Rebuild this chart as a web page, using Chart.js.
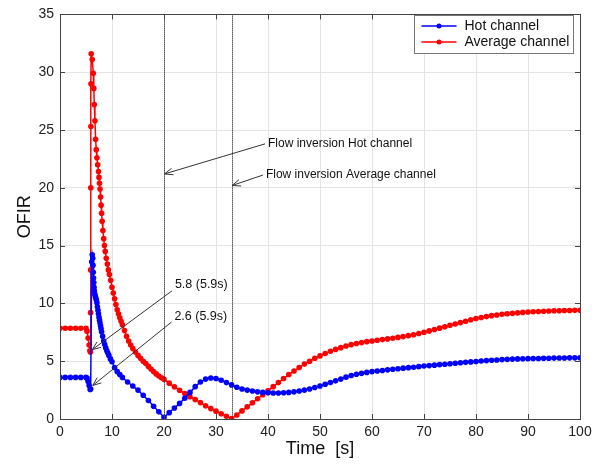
<!DOCTYPE html>
<html lang="en">
<head>
<meta charset="UTF-8">
<title>OFIR</title>
<script src="https://cdn.jsdelivr.net/npm/chart.js"></script>
<style>
  html, body { margin: 0; padding: 0; background: #fff; }
  #c { display: block; }
</style>
</head>
<body>
<canvas id="c" width="597" height="464"></canvas>
<script>
// ---- data ----
var hotTime = [0, 1, 2, 3, 4, 5, 5.2, 5.4, 5.6, 5.8, 5.9,
  6.1, 6.2, 6.3, 6.35, 6.4, 6.45, 6.5, 6.55, 6.6, 6.7, 6.8, 6.9, 7.0, 7.1, 7.2, 7.3, 7.4, 7.5, 7.6, 7.7, 7.8, 7.9,
  8.0, 8.2, 8.4, 8.6, 8.8, 9.0, 9.2, 9.4, 9.7, 10, 10.5, 11, 11.5, 12, 13, 14, 15, 16, 17, 18, 19, 20,
  21, 22, 23, 24, 25, 26, 27, 28, 29, 30, 31, 32, 33, 34, 35, 36, 37, 38, 39, 40,
  41, 42, 43, 44, 45, 46, 47, 48, 49, 50, 51, 52, 53, 54, 55, 56, 57, 58, 59, 60,
  61, 62, 63, 64, 65, 66, 67, 68, 69, 70, 71, 72, 73, 74, 75, 76, 77, 78, 79, 80,
  81, 82, 83, 84, 85, 86, 87, 88, 89, 90, 91, 92, 93, 94, 95, 96, 97, 98, 99, 100];
var hotOfir = [3.6, 3.6, 3.6, 3.6, 3.6, 3.6, 3.55, 3.25, 2.9, 2.55, 2.6,
  13.6, 14.2, 13.9, 13.3, 12.7, 12.2, 11.8, 11.4, 11.1, 10.8, 10.6, 10.45, 10.3, 10.05, 9.7, 9.4, 9.1, 8.8, 8.55, 8.3, 8.05, 7.8,
  7.55, 7.15, 6.75, 6.45, 6.15, 5.9, 5.7, 5.5, 5.2, 4.95, 4.45, 4.1, 3.85, 3.6, 3.2, 2.85, 2.5, 2.05, 1.6, 1.1, 0.62, 0.15,
  0.55, 0.95, 1.35, 1.8, 2.3, 2.8, 3.2, 3.45, 3.55, 3.5, 3.35, 3.15, 2.95, 2.75, 2.6, 2.5, 2.42, 2.35, 2.3, 2.27,
  2.25, 2.25, 2.27, 2.3, 2.35, 2.42, 2.5, 2.6, 2.72, 2.85, 3.0, 3.15, 3.3, 3.45, 3.62, 3.76, 3.87, 3.95, 4.03, 4.1,
  4.15, 4.2, 4.25, 4.3, 4.35, 4.4, 4.44, 4.48, 4.53, 4.58, 4.62, 4.66, 4.7, 4.74, 4.78, 4.82, 4.86, 4.9, 4.94, 4.98,
  5.02, 5.05, 5.08, 5.11, 5.14, 5.16, 5.18, 5.2, 5.21, 5.22, 5.23, 5.24, 5.25, 5.26, 5.27, 5.28, 5.28, 5.29, 5.29, 5.3];

var avgTime = [0, 1, 2, 3, 4, 5, 5.2, 5.4, 5.6, 5.75, 5.85,
  5.88, 5.9, 5.92, 5.94, 5.96, 6.0, 6.2, 6.4, 6.5, 6.6, 6.72, 6.85, 6.97, 7.1, 7.25, 7.4, 7.5, 7.6, 7.7, 7.8, 7.9,
  8.0, 8.1, 8.25, 8.4, 8.55, 8.7, 8.9, 9.1, 9.3, 9.5, 9.75, 10, 10.25, 10.5, 10.75, 11, 11.25, 11.5, 11.75, 12,
  12.4, 12.8, 13.2, 13.6, 14, 14.5, 15, 15.5, 16, 16.5, 17, 17.5, 18, 18.5, 19, 19.5, 20,
  21, 22, 23, 24, 25, 26, 27, 28, 29, 30, 31, 32, 33, 34, 35, 36, 37, 38, 39, 40,
  41, 42, 43, 44, 45, 46, 47, 48, 49, 50, 51, 52, 53, 54, 55, 56, 57, 58, 59, 60,
  61, 62, 63, 64, 65, 66, 67, 68, 69, 70, 71, 72, 73, 74, 75, 76, 77, 78, 79, 80,
  81, 82, 83, 84, 85, 86, 87, 88, 89, 90, 91, 92, 93, 94, 95, 96, 97, 98, 99, 100];
var avgOfir = [7.85, 7.85, 7.85, 7.85, 7.85, 7.85, 7.6, 7.0, 6.4, 5.9, 5.8,
  9.2, 12.9, 20.0, 25.3, 29.0, 31.6, 31.1, 29.9, 28.6, 27.2, 25.8, 24.2, 23.3, 22.6, 22.0, 21.4, 20.9, 20.4, 19.9, 19.2, 18.5,
  17.8, 17.1, 16.3, 15.6, 15.0, 14.5, 13.9, 13.4, 12.9, 12.5, 12.0, 11.4, 10.9, 10.4, 9.9, 9.45, 9.1, 8.75, 8.45, 8.15,
  7.65, 7.15, 6.75, 6.4, 6.1, 5.8, 5.5, 5.25, 5.0, 4.8, 4.55, 4.33, 4.1, 3.9, 3.72, 3.57, 3.43,
  3.1, 2.78, 2.48, 2.2, 1.93, 1.68, 1.42, 1.15, 0.9, 0.68, 0.46, 0.24, 0.03, 0.35, 0.7, 1.05, 1.4, 1.75, 2.1, 2.45,
  2.8, 3.15, 3.5, 3.85, 4.15, 4.45, 4.75, 5.0, 5.25, 5.46, 5.66, 5.86, 6.02, 6.17, 6.32, 6.43, 6.53, 6.61, 6.69, 6.75,
  6.81, 6.87, 6.93, 6.99, 7.06, 7.13, 7.21, 7.29, 7.39, 7.5, 7.62, 7.74, 7.86, 7.98, 8.1, 8.22, 8.34, 8.46, 8.58, 8.7,
  8.78, 8.86, 8.94, 9.0, 9.06, 9.1, 9.14, 9.18, 9.22, 9.25, 9.28, 9.3, 9.32, 9.34, 9.36, 9.37, 9.38, 9.39, 9.4, 9.4];

var seriesNames = ["Hot channel", "Average channel"];
var seriesColors = ["#0000ff", "#ff0000"];
var xTicks = [0, 10, 20, 30, 40, 50, 60, 70, 80, 90, 100];
var yTicks = [0, 5, 10, 15, 20, 25, 30, 35];
var inversionTimes = [20, 33];

// notes: text anchor (tx, ty) and arrow tip (ax, ay), in data units
var noteTexts = ["Flow inversion Hot channel", "Flow inversion Average channel", "5.8 (5.9s)", "2.6 (5.9s)"];
var noteTx = [40.0, 39.6, 22.1, 22.0];
var noteTy = [23.8, 21.1, 11.6, 8.9];
var noteAx = [20.1, 33.1, 6.2, 6.3];
var noteAy = [21.2, 20.2, 6.0, 2.9];
var noteFont = [12, 12, 12.5, 12.5];

function pairs(xs, ys) {
  var out = [];
  for (var i = 0; i < xs.length; i++) out.push({ x: xs[i], y: ys[i] });
  return out;
}

var font = "'Liberation Sans', Arial, sans-serif";

function arrow(ctx, x1, y1, x2, y2) {
  ctx.beginPath();
  ctx.moveTo(x1, y1);
  ctx.lineTo(x2, y2);
  ctx.stroke();
  var a = Math.atan2(y2 - y1, x2 - x1);
  var len = 9, spread = 0.38;
  ctx.beginPath();
  ctx.moveTo(x2 - len * Math.cos(a - spread), y2 - len * Math.sin(a - spread));
  ctx.lineTo(x2, y2);
  ctx.lineTo(x2 - len * Math.cos(a + spread), y2 - len * Math.sin(a + spread));
  ctx.stroke();
}

var extras = {
  id: "extras",
  afterDatasetsDraw: function (chart) {
    var ctx = chart.ctx, a = chart.chartArea;
    var xs = chart.scales.x, ys = chart.scales.y;
    ctx.save();

    // dotted inversion lines
    ctx.strokeStyle = "#000";
    ctx.lineWidth = 1;
    ctx.setLineDash([1, 1]);
    inversionTimes.forEach(function (t) {
      var px = Math.round(xs.getPixelForValue(t)) + 0.5;
      ctx.beginPath();
      ctx.moveTo(px, a.top);
      ctx.lineTo(px, a.bottom);
      ctx.stroke();
    });
    ctx.setLineDash([]);

    // notes with arrows
    ctx.strokeStyle = "#333";
    ctx.fillStyle = "#111";
    ctx.textBaseline = "middle";
    ctx.textAlign = "left";
    for (var i = 0; i < noteTexts.length; i++) {
      var tx = xs.getPixelForValue(noteTx[i]), ty = ys.getPixelForValue(noteTy[i]);
      var ax = xs.getPixelForValue(noteAx[i]), ay = ys.getPixelForValue(noteAy[i]);
      ctx.font = noteFont[i] + "px " + font;
      ctx.fillText(noteTexts[i], tx, ty);
      arrow(ctx, tx - 3, ty + (i >= 2 ? 6 : 0), ax, ay);
    }

    // inner tick marks and box
    ctx.strokeStyle = "#444";
    ctx.beginPath();
    xTicks.forEach(function (t) {
      var px = Math.round(xs.getPixelForValue(t)) + 0.5;
      ctx.moveTo(px, a.bottom); ctx.lineTo(px, a.bottom - 5);
      ctx.moveTo(px, a.top); ctx.lineTo(px, a.top + 5);
    });
    yTicks.forEach(function (t) {
      var py = Math.round(ys.getPixelForValue(t)) + 0.5;
      ctx.moveTo(a.left, py); ctx.lineTo(a.left + 5, py);
      ctx.moveTo(a.right, py); ctx.lineTo(a.right - 5, py);
    });
    ctx.stroke();
    ctx.strokeRect(Math.round(a.left) + 0.5, Math.round(a.top) + 0.5,
      Math.round(a.right - a.left), Math.round(a.bottom - a.top));

    // legend box
    var lx = 414.5, ly = 15.5, lw = 159, lh = 38;
    ctx.fillStyle = "#fff";
    ctx.fillRect(lx, ly, lw, lh);
    ctx.strokeStyle = "#777";
    ctx.strokeRect(lx, ly, lw, lh);
    ctx.font = "14px " + font;
    for (var k = 0; k < seriesNames.length; k++) {
      var yy = ly + 10.5 + k * 16;
      ctx.strokeStyle = seriesColors[k];
      ctx.lineWidth = 1.5;
      ctx.beginPath();
      ctx.moveTo(lx + 7, yy); ctx.lineTo(lx + 42, yy);
      ctx.stroke();
      ctx.fillStyle = seriesColors[k];
      ctx.beginPath();
      ctx.arc(lx + 24.5, yy, 2.5, 0, Math.PI * 2);
      ctx.fill();
      ctx.fillStyle = "#111";
      ctx.fillText(seriesNames[k], lx + 50, yy);
    }
    ctx.restore();
  }
};

new Chart(document.getElementById("c"), {
  type: "scatter",
  data: {
    datasets: [
      {
        label: seriesNames[0],
        data: pairs(hotTime, hotOfir),
        showLine: true,
        borderColor: seriesColors[0],
        backgroundColor: seriesColors[0],
        borderWidth: 1.5,
        pointRadius: 2.8,
        pointBorderWidth: 0,
        tension: 0
      },
      {
        label: seriesNames[1],
        data: pairs(avgTime, avgOfir),
        showLine: true,
        borderColor: seriesColors[1],
        backgroundColor: seriesColors[1],
        borderWidth: 1.5,
        pointRadius: 2.8,
        pointBorderWidth: 0,
        tension: 0
      }
    ]
  },
  options: {
    responsive: false,
    animation: false,
    layout: { padding: { top: 10, right: 17, left: 0, bottom: 0 } },
    plugins: { legend: { display: false }, tooltip: { enabled: false } },
    scales: {
      x: {
        type: "linear", min: 0, max: 100,
        afterBuildTicks: function (s) { s.ticks = xTicks.map(function (v) { return { value: v }; }); },
        afterFit: function (s) { s.height = 45; },
        ticks: { color: "#222", font: { family: font, size: 14 }, padding: 5 },
        grid: { color: "#e4e4e4", drawTicks: false },
        border: { color: "#444" },
        title: { display: true, text: "Time  [s]", color: "#111", font: { family: font, size: 18 }, padding: { top: 0, bottom: 4 } }
      },
      y: {
        min: 0, max: 35,
        afterBuildTicks: function (s) { s.ticks = yTicks.map(function (v) { return { value: v }; }); },
        afterFit: function (s) { s.width = 60; },
        ticks: { color: "#222", font: { family: font, size: 14 }, padding: 6 },
        grid: { color: "#e4e4e4", drawTicks: false },
        border: { color: "#444" },
        title: { display: true, text: "OFIR", color: "#111", font: { family: font, size: 18 }, padding: { top: 14, bottom: 0 } }
      }
    }
  },
  plugins: [extras]
});
</script>
</body>
</html>
